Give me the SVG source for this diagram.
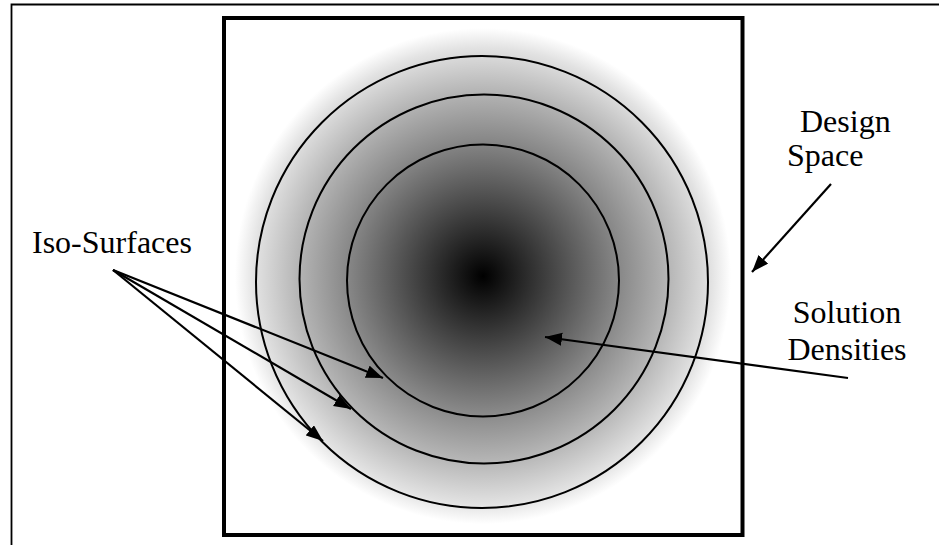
<svg xmlns="http://www.w3.org/2000/svg" width="939" height="545" viewBox="0 0 939 545">
<style>
.lbl{font-family:"Liberation Serif","Times New Roman",serif;font-size:32px;fill:#000}
.iso{fill:none;stroke:#000;stroke-width:2}
.arr{fill:none;stroke:#000;stroke-width:2.2;marker-end:url(#ah)}
</style>
<defs>
<radialGradient id="dens" gradientUnits="userSpaceOnUse" cx="483" cy="276" r="248">
<stop offset="0" stop-color="#000"/>
<stop offset="0.55" stop-color="#888"/>
<stop offset="0.75" stop-color="#b6b6b6"/>
<stop offset="0.92" stop-color="#e2e2e2"/>
<stop offset="1" stop-color="#fff"/>
</radialGradient>
<marker id="ah" markerUnits="userSpaceOnUse" markerWidth="18" markerHeight="14" refX="17" refY="6.5" orient="auto">
<path d="M0,0 L17,6.5 L0,13 z" fill="#000"/>
</marker>
</defs>
<rect width="939" height="545" fill="#fff"/>
<g id="frame">
<path d="M11.5,545 V4.5 H939" fill="none" stroke="#000" stroke-width="1.8"/>
</g>
<g id="design-space">
<rect x="224" y="18" width="518.5" height="517" fill="#fff" stroke="#000" stroke-width="4"/>
</g>
<g id="solution-densities">
<circle cx="483" cy="276" r="250" fill="url(#dens)"/>
</g>
<g id="iso-surfaces">
<circle class="iso" cx="482" cy="282" r="226"/>
<circle class="iso" cx="484" cy="279" r="184.5"/>
<circle class="iso" cx="483" cy="280.5" r="136"/>
</g>
<g id="labels">
<text class="lbl" x="32" y="253">Iso-Surfaces</text>
<text class="lbl" x="800" y="132">Design</text>
<text class="lbl" x="787" y="166">Space</text>
<text class="lbl" x="847" y="323" text-anchor="middle">Solution</text>
<text class="lbl" x="847" y="360" text-anchor="middle">Densities</text>
</g>
<g id="connectors">
<line class="arr" x1="113" y1="270" x2="383" y2="378"/>
<line class="arr" x1="113" y1="270" x2="351" y2="409"/>
<line class="arr" x1="113" y1="270" x2="323" y2="441"/>
<line class="arr" x1="831" y1="184" x2="752" y2="272"/>
<line class="arr" x1="848" y1="378" x2="545" y2="337"/>
</g>
</svg>
